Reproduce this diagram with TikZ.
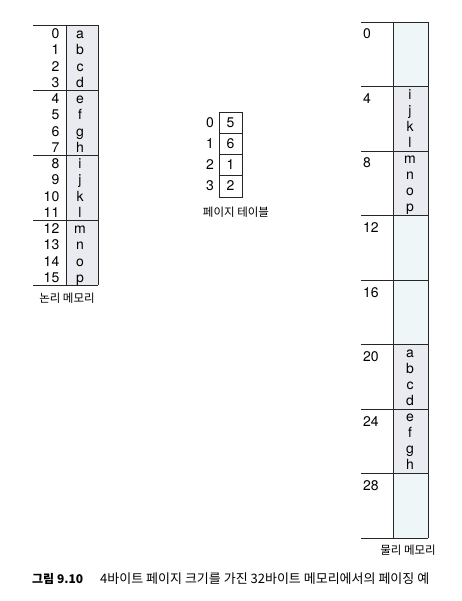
\documentclass[tikz,border=0pt]{standalone}
\usepackage{fontspec}
\setmainfont{TeX Gyre Heros}
\newfontfamily\kr{Noto Sans CJK KR}
\definecolor{lav}{HTML}{EAEAF1}
\definecolor{cya}{HTML}{EEF6F8}
\begin{document}
\begin{tikzpicture}[x=1pt,y=-1pt,
  gridline/.style={draw=black!85, line width=0.75pt},
  cell/.style={inner sep=0pt, font=\fontsize{14}{14}\selectfont, text height=9.8pt, text depth=2.6pt},
  lbl/.style={inner sep=0pt, font=\kr\fontsize{11.5}{11.5}\selectfont},
  captxt/.style={inner sep=0pt, anchor=west, font=\kr\fontsize{13}{13}\selectfont}]
\useasboundingbox (0,0) rectangle (462,601);
% ---------- logical memory ----------
\fill[lav] (66,25) rectangle (98,285);
\foreach \k in {0,...,4} \draw[gridline] (33,25+65*\k) -- (98,25+65*\k);
\draw[gridline] (66,25) -- (66,285);
\draw[gridline] (98,25) -- (98,285);
\foreach \i/\l in {0/a,1/b,2/c,3/d,4/e,5/f,6/g,7/h,8/i,9/j,10/k,11/l,12/m,13/n,14/o,15/p}{
  \node[cell, anchor=east] (ln\i) at (59.5,{25+16.25*(\i+0.5)+1.8}) {\i};
  \node[cell] (lc\i) at (80,{25+16.25*(\i+0.5)+1.8}) {\l};
}
\node[lbl] (lmlabel) at (67,298) {논리 메모리};
% ---------- page table ----------
\draw[gridline] (219,112) rectangle (242,197);
\foreach \k in {1,2,3} \draw[gridline] (219,{112+21.25*\k}) -- (242,{112+21.25*\k});
\foreach \i/\v in {0/5,1/6,2/1,3/2}{
  \node[cell, anchor=east] (pi\i) at (214,{112+21.25*(\i+0.5)+1}) {\i};
  \node[cell] (pv\i) at (230.5,{112+21.25*(\i+0.5)+1}) {\v};
}
\node[lbl] (ptlabel) at (236,212) {페이지 테이블};
% ---------- physical memory ----------
\foreach \f in {0,3,4,7} \fill[cya] (393,{22+64.5*\f}) rectangle (428,{22+64.5*(\f+1)});
\foreach \f in {1,2,5,6} \fill[lav] (393,{22+64.5*\f}) rectangle (428,{22+64.5*(\f+1)});
\foreach \k in {0,...,8} \draw[gridline] (361,{22+64.5*\k}) -- (428,{22+64.5*\k});
\draw[gridline] (393,22) -- (393,538);
\draw[gridline] (428,22) -- (428,538);
\foreach \f in {0,...,7}{
  \pgfmathtruncatemacro{\addr}{4*\f}
  \node[cell, anchor=north west] (fa\f) at (363,{22+64.5*\f+7}) {\addr};
}
\foreach \f/\ls in {1/{i,j,k,l},2/{m,n,o,p},5/{a,b,c,d},6/{e,f,g,h}}{
  \foreach \l [count=\r from 0] in \ls {
    \node[cell] (pc\f\r) at (410,{22+64.5*\f+16*(\r+0.5)+1}) {\l};
  }
}
\node[lbl] (pmlabel) at (408,550) {물리 메모리};
% ---------- caption ----------
\node[captxt, font=\kr\bfseries\fontsize{12}{12}\selectfont] (capnum) at (32,579) {그림 9.10};
\node[captxt] (captext) at (100,579) {4바이트 페이지 크기를 가진 32바이트 메모리에서의 페이징 예};
\end{tikzpicture}
\end{document}
